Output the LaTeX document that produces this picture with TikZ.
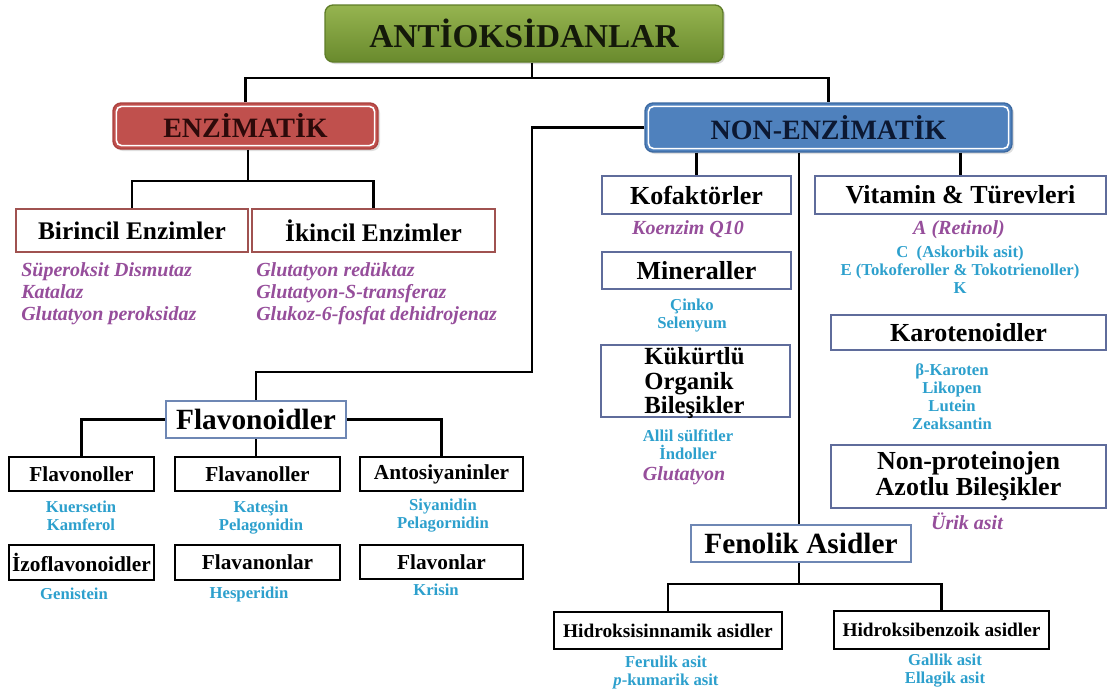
\documentclass[tikz,border=0pt]{standalone}
\usepackage{fontspec}
\setmainfont{Liberation Serif}
\usetikzlibrary{calc,shadows}
\definecolor{purp}{RGB}{150,78,155}
\definecolor{cyn}{RGB}{45,160,205}
\definecolor{slate}{RGB}{95,108,155}
\definecolor{slatelt}{RGB}{110,135,180}
\definecolor{brd}{RGB}{160,82,80}
\definecolor{enzred}{RGB}{192,80,77}
\definecolor{enzedge}{RGB}{170,65,62}
\definecolor{nblue}{RGB}{79,129,189}
\definecolor{nedge}{RGB}{60,105,160}
\definecolor{gtop}{RGB}{150,180,80}
\definecolor{gbot}{RGB}{105,138,45}
\definecolor{gedge}{RGB}{95,125,40}
\newcommand\fsz[2]{\fontsize{#1}{#2}\selectfont}
\newcommand\bx[7]{\node[#6, minimum width={(#4-#2)*0.75pt}, minimum height={(#5-#3)*0.75pt}, inner sep=0pt] (#1) at ({(#2+#4)/2},{(#3+#5)/2}) {#7};}
\tikzset{
  conn/.style={line width=1.9pt, black},
  kbox/.style={draw=black, line width=1.9pt, fill=white, font=\bfseries\fsz{16}{18}},
  sbox/.style={draw=slate, line width=1.9pt, fill=white, font=\bfseries\fsz{19.5}{22}},
  lbox/.style={draw=slatelt, line width=1.9pt, fill=white, font=\bfseries\fsz{22}{24}},
  rbox/.style={draw=brd, line width=1.9pt, fill=white, font=\bfseries\fsz{19}{22}},
  pitem/.style={text=purp, font=\bfseries\itshape\fsz{15}{16.5}, inner sep=0pt},
  citem/.style={text=cyn, font=\bfseries\fsz{12.5}{13.5}, inner sep=0pt, align=center},
  enzbox/.style={fill=enzred, draw=enzedge, line width=1pt, rounded corners=6pt,
     drop shadow={opacity=0.25, shadow xshift=1.5pt, shadow yshift=-1.5pt},
     text={rgb,255:red,45;green,10;blue,10}, font=\bfseries\fsz{21}{24}},
  nbox/.style={fill=nblue, draw=nedge, line width=1pt, rounded corners=6pt,
     drop shadow={opacity=0.25, shadow xshift=1.5pt, shadow yshift=-1.5pt},
     text={rgb,255:red,12;green,24;blue,50}, font=\bfseries\fsz{21}{24}},
  tbox/.style={top color=gtop, bottom color=gbot, draw=gedge, line width=1pt, rounded corners=6pt,
     drop shadow={opacity=0.3, shadow xshift=1.5pt, shadow yshift=-1.5pt},
     text={rgb,255:red,20;green,25;blue,10}, font=\bfseries\fsz{25}{28}},
}
\begin{document}
\begin{tikzpicture}[x=0.75pt,y=-0.75pt]
\useasboundingbox[fill=white] (0,0) rectangle (1108,689);

% top level
\bx{title}{325}{5}{723}{62}{tbox}{ANTİOKSİDANLAR}
\bx{enz}{113}{103}{378}{149}{enzbox}{ENZİMATİK}
\draw[white, line width=1.2pt, rounded corners=4pt] ($(enz.north west)+(4,4)$) rectangle ($(enz.south east)+(-4,-4)$);
\bx{nonenz}{645}{103}{1012}{152}{nbox}{NON-ENZİMATİK}
\draw[white, line width=1.2pt, rounded corners=4pt] ($(nonenz.north west)+(4,4)$) rectangle ($(nonenz.south east)+(-4,-4)$);

% enzimatik branch
\bx{bir}{16}{209}{248}{252}{rbox}{Birincil Enzimler}
\bx{iki}{252}{209}{495}{252}{rbox}{İkincil Enzimler}
\node[pitem, anchor=north west, align=left] (birit) at (21,262) {Süperoksit Dismutaz\\Katalaz\\Glutatyon peroksidaz};
\node[pitem, anchor=north west, align=left] (ikiit) at (256,262) {Glutatyon redüktaz\\Glutatyon-S-transferaz\\Glukoz-6-fosfat dehidrojenaz};

% non-enzimatik left column
\bx{kof}{602}{176}{791}{214}{sbox}{Kofaktörler}
\node[pitem] (kofit) at (688,229) {Koenzim Q10};
\bx{min}{602}{252}{791}{289}{sbox}{Mineraller}
\node[citem] (minit) at (692,316) {Çinko\\Selenyum};
\bx{kuk}{601}{345}{790}{417}{sbox}{}
\node[font=\bfseries\fsz{18.5}{18.3}, align=left, inner sep=0pt] (kuktx) at ($(kuk.center)+(-1,2)$) {Kükürtlü\\Organik\\Bileşikler};
\node[citem] (kukit) at (688,445) {Allil sülfitler\\İndoller};
\node[pitem] (kukit2) at (684,476) {Glutatyon};

% non-enzimatik right column
\bx{vit}{815}{176}{1106}{214}{sbox}{Vitamin \& Türevleri}
\node[pitem] (vita) at (959,230) {A (Retinol)};
\node[citem] (vitc) at (960,270) {C\ \ (Askorbik asit)\\E (Tokoferoller \& Tokotrienoller)\\K};
\bx{kar}{831}{315}{1106}{350}{sbox}{Karotenoidler}
\node[citem] (karit) at (952,397) {β-Karoten\\Likopen\\Lutein\\Zeaksantin};
\bx{nonp}{831}{445}{1106}{508}{sbox}{}
\node[font=\bfseries\fsz{19.5}{19.5}, align=center, inner sep=0pt] (nonptx) at (nonp.center) {Non-proteinojen\\Azotlu Bileşikler};
\node[pitem] (nonpit) at (967,521) {Ürik asit};

% fenolik
\bx{fen}{691}{525}{911}{562}{lbox}{Fenolik Asidler}
\bx{h1}{554}{612}{782}{649}{kbox}{\fsz{14.5}{16}Hidroksisinnamik asidler}
\bx{h2}{834}{611}{1049}{649}{kbox}{\fsz{14.5}{16}Hidroksibenzoik asidler}
\node[citem] (h1it) at (666,672) {Ferulik asit\\\textit{p}-kumarik asit};
\node[citem] (h2it) at (945,671) {Gallik asit\\Ellagik asit};

% flavonoidler
\bx{flav}{166}{401}{346}{438}{lbox}{Flavonoidler}
\bx{fvl}{9}{457}{154}{491}{kbox}{Flavonoller}
\bx{fvn}{175}{457}{340}{491}{kbox}{Flavanoller}
\bx{ant}{360}{457}{523}{491}{kbox}{Antosiyaninler}
\bx{izo}{9}{545}{154}{580}{kbox}{İzoflavonoidler}
\bx{fnn}{175}{545}{340}{580}{kbox}{Flavanonlar}
\bx{fln}{360}{545}{523}{579}{kbox}{Flavonlar}
\node[citem] (fvlit) at (81,516) {Kuersetin\\Kamferol};
\node[citem] (fvnit) at (261,518) {Kateşin\\Pelagonidin};
\node[citem] (antit) at (443,516) {Siyanidin\\Pelagornidin};
\node[citem] (izoit) at (74,594) {Genistein};
\node[citem] (fnnit) at (249,594) {Hesperidin};
\node[citem] (flnit) at (436,590) {Krisin};

% connectors
\coordinate (tj) at (532,78);
\draw[conn] (title.south -| tj) -- (tj);
\draw[conn] (enz.north) |- (tj) -| (nonenz.north);
\coordinate (ej) at (248,181);
\draw[conn] (enz.south -| ej) -- (ej);
\draw[conn] (bir.north) |- (ej) -| (iki.north);
\draw[conn] (nonenz.south -| kof.north) -- (kof.north);
\draw[conn] (nonenz.south -| vit.north) -- (vit.north);
\coordinate (fx) at (799,0);
\draw[conn] (nonenz.south -| fx) -- (fen.north -| fx);
\coordinate (c1) at (532,372);
\draw[conn] (nonenz.west) -| (c1) -| (flav.north);
\draw[conn] (flav.west) -| (fvl.north);
\draw[conn] (flav.east) -| (ant.north);
\draw[conn] (flav.south) -- (flav.south |- fvn.north);
\coordinate (fj) at (799,584);
\draw[conn] (fen.south -| fj) -- (fj);
\draw[conn] (h1.north) |- (fj) -| (h2.north);
\end{tikzpicture}
\end{document}
